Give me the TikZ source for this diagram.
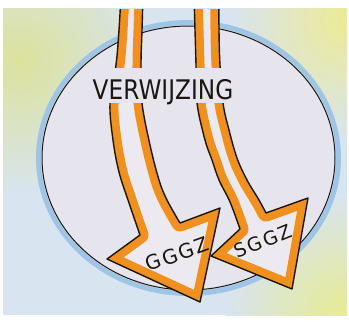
\documentclass[tikz,border=0pt]{standalone}
\usepackage{fontspec}
\setmainfont{DejaVu Sans}
\definecolor{bgblue}{HTML}{D8E4EF}
\definecolor{yelA}{HTML}{DCE29C}
\definecolor{yelB}{HTML}{EDEB92}
\definecolor{yelC}{HTML}{E8EC8C}
\definecolor{halo}{HTML}{9EC5E5}
\definecolor{inside}{HTML}{E6E4EC}
\definecolor{arrowin}{HTML}{ECEAF0}
\definecolor{marker}{HTML}{F0901F}
\definecolor{ink}{HTML}{1C1612}
\tikzset{
  inkline/.style={draw=ink, line width=1.4pt, line join=round},
  band/.style={draw=marker, line width=17pt, line join=round},
  label/.style={text=ink, inner sep=0pt},
}
\def\arrL{plot[smooth,tension=0.6] coordinates {(121,-5) (119,30) (116,65) (110,103) (113,140) (119,172) (128,200) (140,235)} -- (107,259) -- (200,302) -- (220,208) -- plot[smooth,tension=0.6] coordinates {(180,223) (167,200) (159,180) (150,145) (142,103) (141,65) (142,30) (143,-5)} -- cycle}
\def\arrR{plot[smooth,tension=0.6] coordinates {(194,-5) (195,30) (196,65) (197,103) (205,140) (212,160) (219,180) (230,202) (240,229)} -- (211,256) -- (292,289) -- (308,198) -- plot[smooth,tension=0.6] coordinates {(266,213) (259,200) (247,180) (237,158) (229,130) (223,103) (220,65) (219,30) (219,-5)} -- cycle}
\begin{document}
\begin{tikzpicture}[x=1pt,y=-1pt]
\useasboundingbox (0,0) rectangle (349,322);
\fill[white] (0,0) rectangle (349,322);
\begin{scope}
  \clip (3,8) rectangle (347,315);
  \fill[bgblue] (3,8) rectangle (347,315);
  \shade[inner color=yelA, outer color=bgblue] (20,60) circle (135);
  \shade[inner color=yelB, outer color=bgblue] (350,20) circle (120);
  \shade[inner color=yelC, outer color=bgblue] (350,320) circle (125);
\end{scope}
% circle
\draw[halo, line width=5pt] (188.5,158) ellipse (150 and 135.5);
\fill[inside] (188.5,158) ellipse (146.5 and 132);
\draw[ink, line width=1pt] (188.5,158) ellipse (146.5 and 132);
% arrows
\begin{scope}
  \clip (3,9) rectangle (347,315);
  \begin{scope}
    \clip \arrL;
    \fill[arrowin] \arrL;
    \path[band] \arrL;
  \end{scope}
  \path[inkline] \arrL;
  \begin{scope}
    \clip \arrR;
    \fill[arrowin] \arrR;
    \path[band] \arrR;
  \end{scope}
  \path[inkline] \arrR;
\end{scope}
% gap for the label
\fill[inside] (100,68) rectangle (232,103);
\node[label, anchor=base, xscale=0.86, font=\fontsize{27}{27}\selectfont] (verw) at (163,99) {VERWIJZING};
\node[label, rotate=20, font=\fontsize{20}{20}\selectfont\addfontfeature{LetterSpace=8}] (gggz) at (177,254) {GGGZ};
\node[label, rotate=22, font=\fontsize{19}{19}\selectfont\addfontfeature{LetterSpace=10}] (sggz) at (263,241) {SGGZ};
\end{tikzpicture}
\end{document}
